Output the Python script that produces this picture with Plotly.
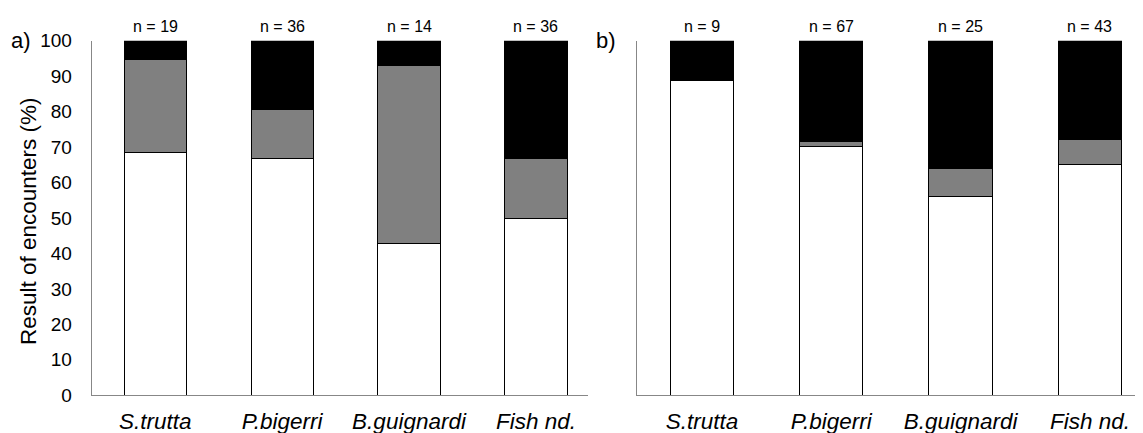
import plotly.graph_objects as go

categories = ["S.trutta", "P.bigerri", "B.guignardi", "Fish nd."]

a_white = [68.4, 66.7, 42.9, 50.0]
a_gray = [26.3, 13.9, 50.0, 16.7]
a_black = [5.3, 19.4, 7.1, 33.3]
a_n = [19, 36, 14, 36]

b_white = [88.9, 70.1, 56.0, 65.1]
b_gray = [0.0, 1.5, 8.0, 7.0]
b_black = [11.1, 28.4, 36.0, 27.9]
b_n = [9, 67, 25, 43]

y_ticks = [0, 10, 20, 30, 40, 50, 60, 70, 80, 90, 100]

# page has an 8px body margin; lay the figure out in page coordinates minus 8
OFF = 8
W, H = 1143 - OFF, 433 - OFF
FONT = "Liberation Sans, Arial, sans-serif"

def px(x):
    return (x - OFF) / W

def py(y):
    return 1 - (y - OFF) / H

fig = go.Figure()

def add_stack(xa, ya, white, gray, black):
    for vals, col in [(white, "#ffffff"), (gray, "#808080"), (black, "#000000")]:
        fig.add_trace(go.Bar(
            x=categories, y=vals, xaxis=xa, yaxis=ya,
            marker=dict(color=col, line=dict(color="#000000", width=1)),
            width=0.49, showlegend=False, hoverinfo="skip"))

add_stack("x", "y", a_white, a_gray, a_black)
add_stack("x2", "y2", b_white, b_gray, b_black)

ydom = [py(395.3), py(40.7)]

axcol = "#878787"
xcommon = dict(type="category", range=[-0.5, 3.41], showline=True, linecolor=axcol,
               linewidth=1, ticks="", showgrid=False, zeroline=False,
               tickfont=dict(family=FONT, size=22.5, color="#000000", style="italic"),
               ticklabelstandoff=6, automargin=False)
ycommon = dict(range=[0, 100], showline=True, linecolor=axcol, linewidth=1,
               showgrid=False, zeroline=False, domain=ydom, automargin=False)

fig.update_layout(
    width=W, height=H,
    margin=dict(l=0, r=0, t=0, b=0),
    paper_bgcolor="#ffffff", plot_bgcolor="#ffffff",
    barmode="stack",
    font=dict(family=FONT, color="#000000"),
    xaxis=dict(domain=[px(91.7), px(588)], anchor="y", **xcommon),
    xaxis2=dict(domain=[px(637.3), 1.0], anchor="y2", **xcommon),
    yaxis=dict(anchor="x", tickvals=y_ticks, ticktext=[str(v) for v in y_ticks],
               tickfont=dict(family=FONT, size=19, color="#000000"),
               ticks="outside", ticklen=15, tickcolor="rgba(0,0,0,0)", **ycommon),
    yaxis2=dict(anchor="x2", showticklabels=False, ticks="", **ycommon),
)

for cat, n in zip(categories, a_n):
    fig.add_annotation(x=cat, xref="x", y=py(26), yref="paper", text=f"n = {n}",
                       showarrow=False, font=dict(family=FONT, size=16, color="#000000"),
                       xanchor="center", yanchor="middle")
for cat, n in zip(categories, b_n):
    fig.add_annotation(x=cat, xref="x2", y=py(26), yref="paper", text=f"n = {n}",
                       showarrow=False, font=dict(family=FONT, size=16, color="#000000"),
                       xanchor="center", yanchor="middle")

fig.add_annotation(x=px(21), y=py(41), xref="paper", yref="paper", text="a)",
                   showarrow=False, font=dict(family=FONT, size=22, color="#000000"),
                   xanchor="center", yanchor="middle")
fig.add_annotation(x=px(606), y=py(40), xref="paper", yref="paper", text="b)",
                   showarrow=False, font=dict(family=FONT, size=22, color="#000000"),
                   xanchor="center", yanchor="middle")
fig.add_annotation(x=px(28), y=py(221), xref="paper", yref="paper",
                   text="Result of encounters (%)", textangle=-90,
                   showarrow=False, font=dict(family=FONT, size=22.5, color="#000000"),
                   xanchor="center", yanchor="middle")

fig.write_html("out.html")
